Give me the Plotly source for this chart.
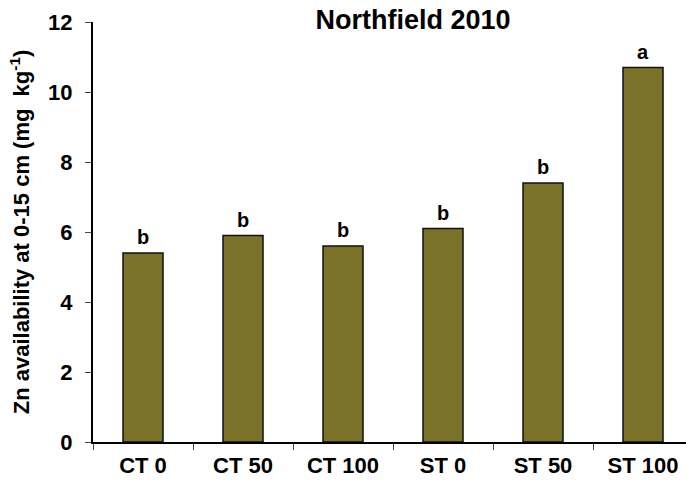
import plotly.graph_objects as go

# Zn availability (0-15 cm) by tillage / rate treatment, Northfield 2010
treatments = ["CT 0", "CT 50", "CT 100", "ST 0", "ST 50", "ST 100"]
zn_values = [5.4, 5.9, 5.6, 6.1, 7.4, 10.7]
letters = ["b", "b", "b", "b", "b", "a"]
y_ticks = [0, 2, 4, 6, 8, 10, 12]

FONT = "Liberation Sans, Arial, sans-serif"

fig = go.Figure()
fig.add_trace(go.Bar(
    x=treatments,
    y=zn_values,
    width=0.4,
    marker=dict(color="#7B7229", line=dict(color="#111111", width=1.5)),
    hoverinfo="skip",
))

for t, v, s in zip(treatments, zn_values, letters):
    fig.add_annotation(
        x=t, y=v, text=f"<b>{s}</b>", showarrow=False,
        yanchor="bottom", yshift=3,
        font=dict(family=FONT, size=20, color="black"),
    )

fig.update_layout(
    width=686, height=485,
    margin=dict(l=93, r=0, t=22, b=43, autoexpand=False),
    paper_bgcolor="white", plot_bgcolor="white",
    showlegend=False,
    title=dict(
        text="<b>Northfield 2010</b>",
        x=0.602, xref="container", xanchor="center",
        y=0.960, yref="container", yanchor="middle",
        font=dict(family=FONT, size=27, color="black"),
    ),
)

fig.update_xaxes(
    type="category",
    range=[-0.5, 5.43],
    showline=True, linecolor="black", linewidth=2,
    ticks="outside", tickson="boundaries", ticklen=6, tickcolor="#444444", tickwidth=1,
    showgrid=False, zeroline=False,
    tickfont=dict(family=FONT, size=22, color="black"),
    ticklabelstandoff=3,
)
fig.update_xaxes(ticktext=[f"<b>{t}</b>" for t in treatments], tickvals=treatments)

fig.update_yaxes(
    range=[0, 12],
    tickvals=y_ticks,
    ticktext=[f"<b>{v}</b>" for v in y_ticks],
    showline=True, linecolor="black", linewidth=2,
    ticks="outside", ticklen=6, tickcolor="#444444", tickwidth=1,
    showgrid=False, zeroline=False,
    tickfont=dict(family=FONT, size=22, color="black"),
    ticklabelstandoff=8,
    title=dict(
        text="<b>Zn availability at 0-15 cm (mg  kg<sup>-1</sup>)</b>",
        font=dict(family=FONT, size=22, color="black"),
        standoff=12,
    ),
)

fig.write_html("out.html")
